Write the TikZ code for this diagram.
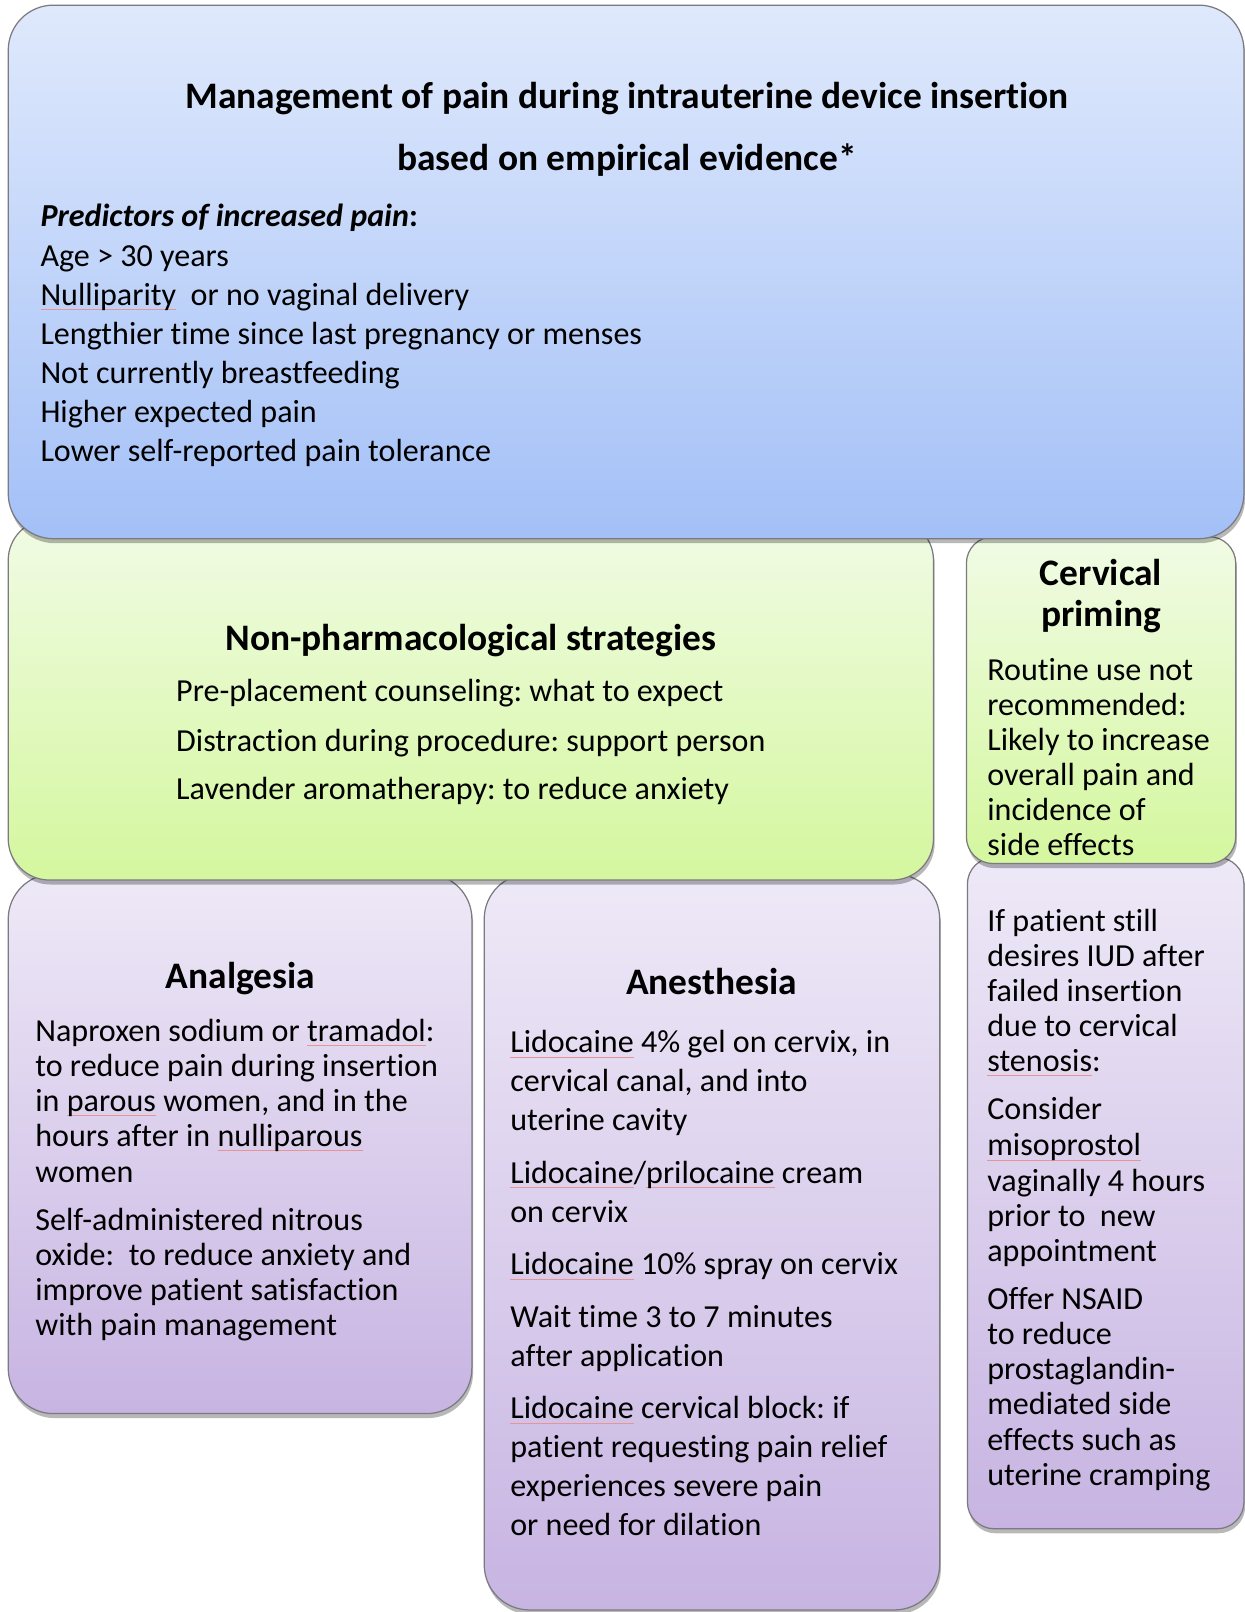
\documentclass[tikz,border=0pt]{standalone}
\usepackage{fontspec}
\setmainfont{Carlito}[Ligatures={TeX,NoCommon}]
\usetikzlibrary{shadows}
\definecolor{topA}{HTML}{DFE9FC}
\definecolor{topB}{HTML}{A3C0F7}
\definecolor{grA}{HTML}{F1FBE5}
\definecolor{grB}{HTML}{D4F79E}
\definecolor{puA}{HTML}{EEE9F7}
\definecolor{puB}{HTML}{C7B4E2}
\definecolor{edgegray}{HTML}{7A7A80}
\definecolor{squig}{HTML}{E89494}
\newsavebox\sqbox
\newcommand\sq[1]{\sbox\sqbox{#1}\rlap{\textcolor{squig}{\rule[-2.4pt]{\wd\sqbox}{0.35pt}}}\usebox\sqbox}
\tikzset{
  panel/.style={draw=edgegray, line width=0.6pt,
    drop shadow={shadow xshift=0.6pt, shadow yshift=-2.2pt, opacity=0.28, fill=black}},
  bluepanel/.style={panel, top color=topA, bottom color=topB, rounded corners=22pt},
  greenpanel/.style={panel, top color=grA, bottom color=grB},
  purplepanel/.style={panel, top color=puA, bottom color=puB},
  body/.style={font=\fontsize{15.6}{18}\selectfont, inner sep=0pt, anchor=mid west, yshift=-3pt},
  head/.style={font=\bfseries\fontsize{18.2}{21}\selectfont, inner sep=0pt, anchor=mid, yshift=-3.8pt},
}
\begin{document}
\frenchspacing
\begin{tikzpicture}[x=0.5pt, y=-0.5pt]
\useasboundingbox (0,0) rectangle (1211,1568);
\fill[white] (0,0) rectangle (1211,1568);

% ---------- purple row (drawn first, partly hidden) ----------
\path[purplepanel, rounded corners=22pt] (8,850) rectangle (459,1375);
\path[purplepanel, rounded corners=22pt] (471,850) rectangle (914,1566);
\path[purplepanel, rounded corners=13pt] (941,834) rectangle (1210,1487);

% ---------- green row ----------
\path[greenpanel, rounded corners=20pt] (8,505) rectangle (908,856);
\path[greenpanel, rounded corners=13pt] (940,522) rectangle (1202,840);

% ---------- top blue panel ----------
\path[bluepanel] (8,5) rectangle (1210,524);

% ---------- top texts ----------
\node[head] (title1) at (610,93) {Management of pain during intrauterine device insertion};
\node[head] (title2) at (610,153) {based on empirical evidence*};
\node[body] (predhead) at (39,210) {{\bfseries\itshape Predictors of increased pain}\textbf{:}};
\foreach \y/\t [count=\i] in {
  248/Age > 30 years,
  286/{\sq{Nulliparity}\ \ or no vaginal delivery},
  324/Lengthier time since last pregnancy or menses,
  362/Not currently breastfeeding,
  400/Higher expected pain,
  438/Lower self-reported pain tolerance}
  \node[body] (pred\i) at (39,\y) {\t};

% ---------- non-pharmacological ----------
\node[head] (nonph) at (458,620) {Non-pharmacological strategies};
\foreach \y/\t [count=\i] in {
  672/{Pre-placement counseling: what to expect},
  720/{Distraction during procedure: support person},
  767/{Lavender aromatherapy: to reduce anxiety}}
  \node[body] (nonph\i) at (171,\y) {\t};

% ---------- cervical priming ----------
\node[head] (cerv1) at (1071,557) {Cervical};
\node[head] (cerv2) at (1071,597) {priming};
\foreach \y/\t [count=\i] in {
  651/Routine use not,
  685/{recommended:},
  719/Likely to increase,
  753/overall pain and,
  787/incidence of,
  821/side effects}
  \node[body] (cerv\i l) at (960,\y) {\t};

% ---------- analgesia ----------
\node[head] (analg) at (234,949) {Analgesia};
\foreach \y/\t [count=\i] in {
  1002/{Naproxen sodium or \sq{tramadol}:},
  1036/to reduce pain during insertion,
  1070/{in \sq{parous} women, and in the},
  1104/{hours after in \sq{nulliparous}},
  1139/women,
  1186/Self-administered nitrous,
  1220/{oxide:\ \ to reduce anxiety and},
  1254/improve patient satisfaction,
  1288/with pain management}
  \node[body] (analg\i) at (34,\y) {\t};

% ---------- anesthesia ----------
\node[head] (anest) at (692,955) {Anesthesia};
\foreach \y/\t [count=\i] in {
  1013/{\sq{Lidocaine} 4\% gel on cervix, in},
  1051/{cervical canal, and into},
  1089/uterine cavity,
  1140/{\sq{Lidocaine}/\sq{prilocaine} cream},
  1178/on cervix,
  1229/{\sq{Lidocaine} 10\% spray on cervix},
  1280/Wait time 3 to 7 minutes,
  1318/after application,
  1369/{\sq{Lidocaine} cervical block: if},
  1407/patient requesting pain relief,
  1445/experiences severe pain,
  1483/or need for dilation}
  \node[body] (anest\i) at (496,\y) {\t};

% ---------- failed insertion ----------
\foreach \y/\t [count=\i] in {
  895/If patient still,
  929/desires IUD after,
  963/failed insertion,
  997/due to cervical,
  1031/{\sq{stenosis}:},
  1078/Consider,
  1113/{\sq{misoprostol}},
  1148/vaginally 4 hours,
  1182/{prior to\ \ new},
  1216/appointment,
  1263/Offer NSAID,
  1297/to reduce,
  1331/prostaglandin-,
  1365/mediated side,
  1400/effects such as,
  1434/uterine cramping}
  \node[body] (fail\i) at (960,\y) {\t};
\end{tikzpicture}
\end{document}
